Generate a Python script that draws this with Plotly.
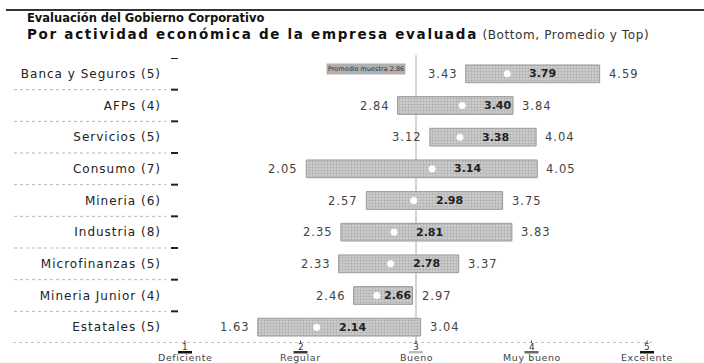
import plotly.graph_objects as go

# ---- data ----
categories = ["Banca y Seguros (5)", "AFPs (4)", "Servicios (5)", "Consumo (7)",
              "Mineria (6)", "Industria (8)", "Microfinanzas (5)",
              "Mineria Junior (4)", "Estatales (5)"]
bottom = [3.43, 2.84, 3.12, 2.05, 2.57, 2.35, 2.33, 2.46, 1.63]
mean = [3.79, 3.40, 3.38, 3.14, 2.98, 2.81, 2.78, 2.66, 2.14]
top = [4.59, 3.84, 4.04, 4.05, 3.75, 3.83, 3.37, 2.97, 3.04]

tick_vals = [1, 2, 3, 4, 5]
tick_nums = ["1", "2", "3", "4", "5"]
tick_words = ["Deficiente", "Regular", "Bueno", "Muy bueno", "Excelente"]
tick_swatch = ["#111111", "#3a3a3a", "#bdbdbd", "#6a6a6a", "#111111"]

sample_avg = 2.86
ref_line = 3
title1 = "Evaluación del Gobierno Corporativo"
title2_bold = "Por actividad económica de la empresa evaluada"
title2_rest = " (Bottom, Promedio y Top)"

FONT = "DejaVu Sans"
W, H = 704, 363
ML, MR, MT, MB = 176, 11, 58, 20
PW = W - ML - MR
PH = H - MT - MB
PX_PER_UNIT = 115.5


def px2paper_x(p):
    return (p - ML) / PW


def px2paper_y(p):
    return 1 - (p - MT) / PH


def ls(text, sp):
    return f"<span style='letter-spacing:{sp}px'>{text}</span>"


fig = go.Figure()

span = [t - b for t, b in zip(top, bottom)]
fig.add_trace(go.Bar(
    y=categories, x=span, base=bottom, orientation="h",
    marker=dict(color="#c8c8c8",
                line=dict(color="#9a9a9a", width=1),
                pattern=dict(shape=".", fgcolor="#8e8e8e", bgcolor="#cbcbcb",
                             size=3, solidity=0.3)),
    hoverinfo="skip", showlegend=False,
))

fig.add_trace(go.Scatter(
    y=categories, x=mean, mode="markers",
    marker=dict(color="white", size=7, line=dict(width=0)),
    hoverinfo="skip", showlegend=False,
))

annotations = []
for c, b, m, t in zip(categories, bottom, mean, top):
    annotations.append(dict(x=b, y=c, xref="x", yref="y", text=ls(f"{b:.2f}", 1),
                            showarrow=False, xanchor="right", xshift=-6,
                            font=dict(family=FONT, size=11.5, color="#444")))
    annotations.append(dict(x=t, y=c, xref="x", yref="y", text=ls(f"{t:.2f}", 1),
                            showarrow=False, xanchor="left", xshift=7,
                            font=dict(family=FONT, size=11.5, color="#444")))
    shift = min(20, (t - m) * PX_PER_UNIT - 31)
    annotations.append(dict(x=m, y=c, xref="x", yref="y", text=f"<b>{m:.2f}</b>",
                            showarrow=False, xanchor="left", xshift=shift,
                            font=dict(family=FONT, size=11, color="#222")))

# sample average label box
annotations.append(dict(x=2.57, y=categories[0], xref="x", yref="y",
                        text=f"Promedio muestra {sample_avg:.2f}", showarrow=False,
                        yshift=5, bgcolor="#b0b0b0", borderpad=1,
                        font=dict(family=FONT, size=6.5, color="#333")))

# axis tick labels: number, swatch, word
for v, n, w in zip(tick_vals, tick_nums, tick_words):
    annotations.append(dict(x=v, y=px2paper_y(346.5), xref="x", yref="paper", text=n,
                            showarrow=False, yanchor="middle",
                            font=dict(family=FONT, size=9, color="#333")))
    annotations.append(dict(x=v, y=px2paper_y(357), xref="x", yref="paper",
                            text=ls(w, 0.6),
                            showarrow=False, yanchor="middle",
                            font=dict(family=FONT, size=9.5, color="#444")))

# titles
annotations.append(dict(x=px2paper_x(25), y=px2paper_y(18), xref="paper", yref="paper",
                        text=f"<b>{title1}</b>", showarrow=False, xanchor="left",
                        yanchor="middle", font=dict(family=FONT, size=11.5, color="#111")))
annotations.append(dict(x=px2paper_x(25), y=px2paper_y(34), xref="paper", yref="paper",
                        text=(f"<b>{ls(title2_bold, 1.7)}</b>"
                              f"<span style='font-size:12px;color:#333;letter-spacing:0.6px'>{title2_rest}</span>"),
                        showarrow=False, xanchor="left", yanchor="middle",
                        font=dict(family=FONT, size=13.5, color="#111")))

shapes = []
# top rule
shapes.append(dict(type="line", xref="paper", yref="paper",
                   x0=px2paper_x(6), x1=px2paper_x(704), y0=px2paper_y(10), y1=px2paper_y(10),
                   line=dict(color="#333", width=2)))
# reference vertical line
shapes.append(dict(type="line", xref="x", yref="paper", x0=ref_line, x1=ref_line,
                   y0=0, y1=1.01, line=dict(color="#aaaaaa", width=1), layer="below"))
# row separators in label area and dash marks
n = len(categories)
for i in range(n):
    yb = i - 0.5
    shapes.append(dict(type="line", xref="paper", yref="y",
                       x0=px2paper_x(171), x1=px2paper_x(178), y0=yb, y1=yb,
                       line=dict(color="#222", width=2)))
    if i > 0:
        shapes.append(dict(type="line", xref="paper", yref="y",
                           x0=px2paper_x(14), x1=px2paper_x(166), y0=yb, y1=yb,
                           line=dict(color="#b5b5b5", width=1, dash="dot")))
# bottom dotted line
shapes.append(dict(type="line", xref="paper", yref="y",
                   x0=px2paper_x(13), x1=px2paper_x(652), y0=n - 0.5, y1=n - 0.5,
                   line=dict(color="#8a8a8a", width=1, dash="dot")))
# tick swatches and tiny tick marks
for v, col in zip(tick_vals, tick_swatch):
    shapes.append(dict(type="rect", xref="x", yref="paper", xsizemode="pixel",
                       xanchor=v, x0=-7, x1=7, y0=px2paper_y(353.5), y1=px2paper_y(351),
                       fillcolor=col, line=dict(width=0)))
    shapes.append(dict(type="line", xref="x", yref="paper", x0=v, x1=v,
                       y0=px2paper_y(343), y1=px2paper_y(340.5),
                       line=dict(color="#444", width=1)))

x0 = 3 - (416 - ML) / PX_PER_UNIT
fig.update_layout(
    width=W, height=H,
    margin=dict(l=ML, r=MR, t=MT, b=MB, pad=0),
    paper_bgcolor="white", plot_bgcolor="white",
    bargap=0.44,
    xaxis=dict(range=[x0, x0 + PW / PX_PER_UNIT],
               showticklabels=False, showgrid=False, zeroline=False, showline=False,
               ticks=""),
    yaxis=dict(type="category", categoryorder="array", categoryarray=categories,
               tickvals=categories, ticktext=[ls(c, 1) for c in categories],
               range=[n - 0.5, -0.5], showgrid=False, zeroline=False, showline=False,
               ticks="", ticklabelstandoff=14,
               tickfont=dict(family=FONT, size=12, color="#222")),
    annotations=annotations, shapes=shapes,
    showlegend=False,
)

fig.write_html("out.html", config={"displayModeBar": False},
               post_script="document.body.style.margin='0px';document.body.style.overflow='hidden';")
